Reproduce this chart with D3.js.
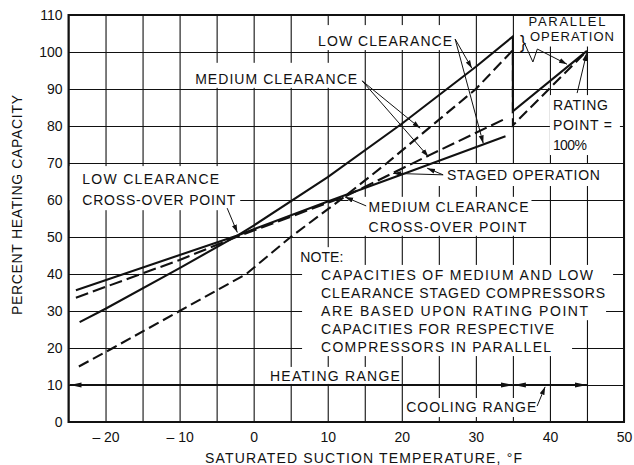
<!DOCTYPE html>
<html>
<head>
<meta charset="utf-8">
<script src="https://cdn.jsdelivr.net/npm/d3@7"></script>
<style>
  body { margin: 0; background: #fff; }
  text { font-family: "Liberation Sans", Arial, sans-serif; fill: #111; }
</style>
</head>
<body>
<div id="chart"></div>
<script>
// capacity curves (temperature in deg F, capacity in %)
const tempTicks = [-20, -10, 0, 10, 20, 30, 40, 50];
const pctTicks = [0, 10, 20, 30, 40, 50, 60, 70, 80, 90, 100, 110];

const lowParT   = [-23.5, -20, -10, -2.1, 0, 10, 20, 30, 35, 35, 45];
const lowParPct = [27, 30.6, 41.6, 50.5, 53.1, 66.2, 80.6, 96, 104.2, 84, 100.3];

const medParT   = [-23.6, -19, -10, -1, 5, 12, 18, 24, 30, 35, 35, 45];
const medParPct = [15, 20, 30, 40, 50, 60.5, 70, 80, 90, 100.5, 80.2, 100.3];

const lowStagedT   = [-24, -2.1, 10, 20, 34];
const lowStagedPct = [35.6, 50.5, 59.6, 66.9, 77.2];

const medStagedT   = [-24, -10, -2.1, 12.4, 23.6, 34];
const medStagedPct = [33.6, 43.8, 50.2, 61, 72, 82];

const heatingRange = [-25, 35];
const coolingRange = [35, 45];
const rangeLevel = 10;

const svg = d3.select('#chart').append('svg')
    .attr('width', 634)
    .attr('height', 465);

const x = d3.scaleLinear().domain([-25, 50]).range([68.5, 624]);
const y = d3.scaleLinear().domain([0, 110]).range([422, 15]);

// grid every 5 deg / 10 %
svg.append('g')
    .attr('transform', 'translate(0,422)')
    .call(d3.axisBottom(x).tickValues(d3.range(-25, 50.1, 5)).tickSize(-407).tickFormat(''))
    .call(g => g.select('.domain').remove())
    .selectAll('line').attr('stroke', '#111').attr('stroke-width', 1.1);
svg.append('g')
    .attr('transform', 'translate(68.5,0)')
    .call(d3.axisLeft(y).tickValues(pctTicks).tickSize(-555.5).tickFormat(''))
    .call(g => g.select('.domain').remove())
    .selectAll('line').attr('stroke', '#111').attr('stroke-width', 1.1);

// text blocks: [text, temp, pct(baseline), length, size], pad = [left, right, top, bottom]
const blocks = [
  { lines: [['LOW CLEARANCE', 8.7, 101.6, 134]], pad: [12, 6, 11, 4] },
  { lines: [['MEDIUM CLEARANCE', -7.9, 91.4, 162]], pad: [10, 5, 11, 4] },
  { lines: [['PARALLEL', 37.1, 107.1, 77, 13], ['OPERATION', 37.3, 103.1, 84, 13]], pad: [6, 8, 0, 6] },
  { lines: [['RATING', 40.4, 84.3, 55], ['POINT =', 40.4, 78.9, 59], ['100%', 40.4, 73.5, 34]], pad: [3, 8, 5, 5] },
  { lines: [['STAGED OPERATION', 26.1, 65.4, 153]], pad: [9, 10, 6, 6] },
  { lines: [['LOW CLEARANCE', -23.15, 64.3, 137], ['CROSS-OVER POINT', -23.15, 58.6, 153]], pad: [13, 5, 8, 5] },
  { lines: [['MEDIUM CLEARANCE', 15.5, 56.8, 160], ['CROSS-OVER POINT', 15.5, 51.4, 158]], pad: [20, 3, 5, 4] },
  { lines: [['NOTE:', 6.3, 43.2, 43]], pad: [2, 10, 5, 4] },
  { lines: [['CAPACITIES OF MEDIUM AND LOW', 9.1, 38.4, 272]], pad: [19, 20, 5, 4] },
  { lines: [['CLEARANCE STAGED COMPRESSORS', 9.1, 33.5, 284]], pad: [19, 20, 5, 4] },
  { lines: [['ARE BASED UPON RATING POINT', 9.1, 28.6, 267]], pad: [19, 18, 5, 4] },
  { lines: [['CAPACITIES FOR RESPECTIVE', 9.1, 23.8, 233]], pad: [19, 20, 5, 4] },
  { lines: [['COMPRESSORS IN PARALLEL', 9.1, 18.9, 230]], pad: [19, 21, 5, 4] },
  { lines: [['HEATING RANGE', 2.2, 11.1, 130]], pad: [10, 0, 4, 3] },
  { lines: [['COOLING RANGE', 20.6, 2.7, 130]], pad: [2, 3, 4, 5] }
];

// white masks behind lettering
blocks.forEach(b => {
    const x0 = d3.min(b.lines, l => x(l[1])) - b.pad[0];
    const x1 = d3.max(b.lines, l => x(l[1]) + l[3]) + b.pad[1];
    const y0 = d3.min(b.lines, l => y(l[2])) - 10 - b.pad[2];
    const y1 = d3.max(b.lines, l => y(l[2])) + b.pad[3];
    svg.append('rect')
        .attr('x', x0).attr('y', y0)
        .attr('width', x1 - x0).attr('height', y1 - y0)
        .attr('fill', '#fff');
});

const defs = svg.append('defs');
defs.append('marker')
    .attr('id', 'ah')
    .attr('viewBox', '0 -3 8 6')
    .attr('refX', 8).attr('refY', 0)
    .attr('markerWidth', 8).attr('markerHeight', 6)
    .attr('markerUnits', 'userSpaceOnUse')
    .attr('orient', 'auto-start-reverse')
    .append('path').attr('d', 'M0,-2.5L8,0L0,2.5Z').attr('fill', '#111');
defs.append('marker')
    .attr('id', 'rh')
    .attr('viewBox', '0 -3 12 6')
    .attr('refX', 12).attr('refY', 0)
    .attr('markerWidth', 12).attr('markerHeight', 6)
    .attr('markerUnits', 'userSpaceOnUse')
    .attr('orient', 'auto-start-reverse')
    .append('path').attr('d', 'M0,-2.6L12,0L0,2.6Z').attr('fill', '#111');

// curves
const line = d3.line().x(d => x(d[0])).y(d => y(d[1]));
const curves = [
    { t: lowParT, p: lowParPct, dash: null },
    { t: medParT, p: medParPct, dash: '11,5' },
    { t: lowStagedT, p: lowStagedPct, dash: null },
    { t: medStagedT, p: medStagedPct, dash: '13,5' }
];
curves.forEach(c => {
    svg.append('path')
        .datum(d3.zip(c.t, c.p))
        .attr('d', line)
        .attr('fill', 'none')
        .attr('stroke', '#111')
        .attr('stroke-width', 2.1)
        .attr('stroke-linejoin', 'miter')
        .attr('stroke-dasharray', c.dash);
});

// heating / cooling range arrows
[heatingRange, coolingRange].forEach(r => {
    svg.append('line')
        .attr('x1', x(r[0]) + 1).attr('x2', x(r[1]))
        .attr('y1', y(rangeLevel)).attr('y2', y(rangeLevel))
        .attr('stroke', '#111').attr('stroke-width', 2)
        .attr('marker-start', 'url(#rh)')
        .attr('marker-end', 'url(#rh)');
});

// leader lines
const leaders = [
    [[27.2, 103.5], [29.46, 95.6]],
    [[27.2, 103.5], [31.0, 75.3]],
    [[14.65, 92.2], [22.48, 79.4]],
    [[14.65, 92.2], [23.6, 71.7]],
    [[43.67, 88.9], [44.96, 99.7]],
    [[25.58, 66.8], [23.42, 68.6]],
    [[25.58, 66.8], [18.83, 67.2]],
    [[-3.58, 57.8], [-2.2, 51.2]],
    [[15.19, 58.4], [12.35, 60.8]],
    [[38.27, 4.3], [39.35, 9.5]],
    [[36.6, 102.2], [37.7, 97.3], [38.3, 100.8], [42.3, 96.7]]
];
leaders.forEach(pts => {
    svg.append('path')
        .datum(pts)
        .attr('d', line)
        .attr('fill', 'none')
        .attr('stroke', '#111')
        .attr('stroke-width', 1)
        .attr('marker-end', 'url(#ah)');
});

// brace for parallel operation
svg.append('text')
    .attr('x', x(35.95)).attr('y', y(101.0))
    .attr('font-size', 18)
    .text('}');

// lettering
blocks.forEach(b => {
    b.lines.forEach(l => {
        svg.append('text')
            .attr('x', x(l[1]))
            .attr('y', y(l[2]))
            .attr('font-size', l[4] || 14)
            .attr('textLength', l[3])
            .attr('lengthAdjust', 'spacing')
            .text(l[0]);
    });
});

// tick labels
svg.append('g')
    .attr('transform', 'translate(68.5,0)')
    .call(d3.axisLeft(y).tickValues(pctTicks).tickSize(0).tickPadding(6))
    .call(g => g.select('.domain').remove())
    .selectAll('text').attr('font-size', 14).attr('fill', '#111');
svg.append('g')
    .attr('transform', 'translate(0,422)')
    .call(d3.axisBottom(x).tickValues(tempTicks).tickSize(0).tickPadding(10)
        .tickFormat(d => d < 0 ? '\u2013 ' + Math.abs(d) : String(d)))
    .call(g => g.select('.domain').remove())
    .selectAll('text').attr('font-size', 14).attr('fill', '#111');

// frame
svg.append('rect')
    .attr('x', 68.5).attr('y', 15)
    .attr('width', 555.5).attr('height', 407)
    .attr('fill', 'none')
    .attr('stroke', '#111')
    .attr('stroke-width', 2);

// axis titles
svg.append('text')
    .attr('x', 363.5).attr('y', 463)
    .attr('text-anchor', 'middle')
    .attr('font-size', 14)
    .attr('textLength', 317)
    .attr('lengthAdjust', 'spacing')
    .text('SATURATED SUCTION TEMPERATURE,  \u00B0F');
svg.append('text')
    .attr('transform', 'translate(22,205) rotate(-90)')
    .attr('text-anchor', 'middle')
    .attr('font-size', 14)
    .attr('textLength', 220)
    .attr('lengthAdjust', 'spacing')
    .text('PERCENT HEATING CAPACITY');
</script>
</body>
</html>
